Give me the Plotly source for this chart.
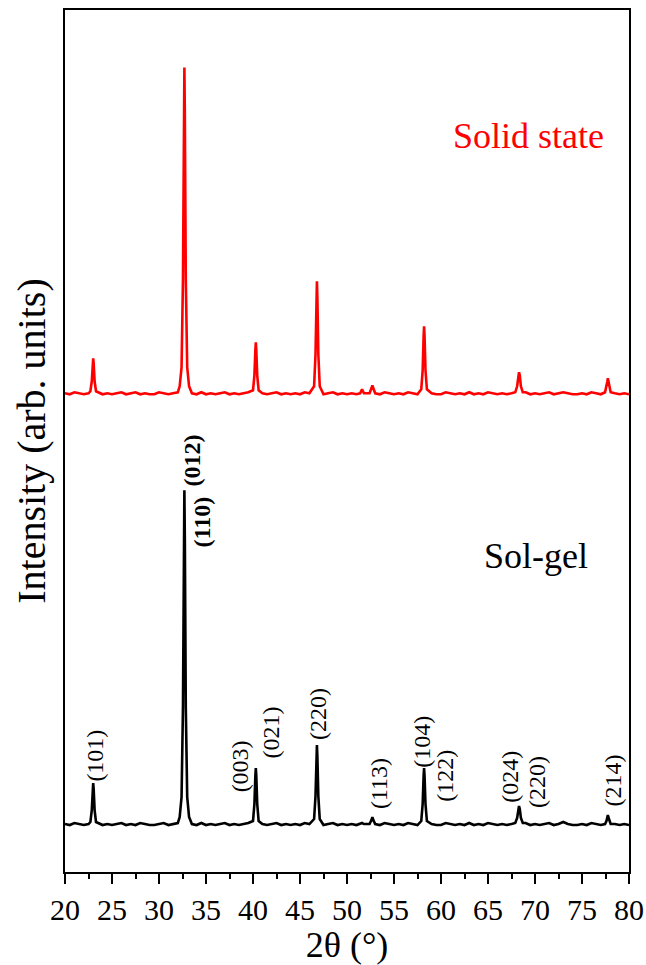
import plotly.graph_objects as go

# ---------------- data ----------------
# baseline sampling (2theta, degrees)
base_tth = [20.0, 20.5, 21.0, 21.5, 22.0, 22.5,
            23.5, 24.0, 24.5, 25.0, 25.5, 26.0, 26.5, 27.0, 27.5, 28.0, 28.5, 29.0, 29.5, 30.0, 30.5, 31.0, 31.5, 32.0,
            33.5, 34.0, 34.5, 35.0, 35.5, 36.0, 36.5, 37.0, 37.5, 38.0, 38.5, 39.0, 39.5,
            41.0, 41.5, 42.0, 42.5, 43.0, 43.5, 44.0, 44.5, 45.0, 45.5, 46.0,
            47.5, 48.0, 48.5, 49.0, 49.5, 50.0, 50.5, 51.0,
            52.0,
            53.5, 54.0, 54.5, 55.0, 55.5, 56.0, 56.5, 57.0, 57.5,
            59.0, 59.5, 60.0, 60.5, 61.0, 61.5, 62.0, 62.5, 63.0, 63.5, 64.0, 64.5, 65.0, 65.5, 66.0, 66.5, 67.0, 67.5,
            69.0, 69.5, 70.0, 70.5, 71.0, 71.5, 72.0, 72.5, 73.0, 73.5, 74.0, 74.5, 75.0, 75.5, 76.0, 76.5, 77.0,
            78.5, 79.0, 79.5, 80.0]
base_solgel = [48, 47, 49, 48, 47, 48,
               49, 47, 48, 47, 48, 49, 47, 48, 47, 49, 48, 47, 47, 48, 49, 47, 48, 49,
               48, 47, 49, 47, 48, 47, 48, 49, 47, 48, 47, 48, 49,
               48, 47, 48, 49, 47, 48, 47, 48, 47, 49, 48,
               47, 48, 49, 47, 48, 47, 48, 47,
               48,
               47, 49, 48, 47, 48, 47, 49, 48, 47,
               48, 47, 47, 49, 48, 47, 48, 47, 49, 47, 48, 47, 49, 48, 47, 48, 47, 48,
               49, 47, 48, 47, 48, 49, 47, 48, 50, 48, 47, 47, 48, 47, 49, 48, 47,
               48, 47, 48, 47]
base_solid = [479, 478, 480, 479, 478, 479,
              480, 478, 479, 478, 479, 480, 478, 479, 480, 478, 479, 478, 478, 480, 479, 478, 479, 480,
              479, 478, 480, 478, 479, 478, 479, 480, 478, 479, 478, 479, 480,
              479, 478, 479, 480, 478, 479, 478, 479, 478, 480, 479,
              478, 479, 480, 478, 479, 478, 479, 478,
              479,
              478, 480, 479, 478, 479, 478, 480, 479, 478,
              479, 478, 478, 480, 479, 478, 479, 478, 480, 478, 479, 478, 480, 479, 478, 479, 478, 479,
              480, 478, 479, 478, 479, 480, 478, 479, 480, 479, 478, 478, 479, 478, 480, 479, 478,
              479, 478, 479, 478]

# diffraction peak regions
peak_tth = [22.7, 22.85, 22.95, 23.0, 23.05, 23.15, 23.3,
            32.2, 32.4, 32.55, 32.65, 32.7, 32.75, 32.85, 33.0, 33.2,
            40.0, 40.15, 40.25, 40.3, 40.35, 40.45, 40.6,
            46.5, 46.65, 46.75, 46.8, 46.85, 46.95, 47.1,
            51.4, 51.6, 51.8,
            52.4, 52.6, 52.7, 52.8, 53.0,
            57.9, 58.05, 58.15, 58.2, 58.25, 58.35, 58.5,
            67.9, 68.1, 68.22, 68.3, 68.38, 68.5, 68.7,
            77.45, 77.6, 77.7, 77.75, 77.8, 77.9, 78.05]
peak_solgel = [50, 62, 83, 89, 83, 62, 50,
               55, 75, 165, 332, 382, 332, 165, 75, 55,
               51, 68, 96, 104, 96, 68, 51,
               53, 76, 115, 127, 115, 76, 53,
               48, 49, 48,
               48, 52, 55, 52, 48,
               51, 68, 96, 104, 96, 68, 51,
               49, 54, 63, 66, 63, 54, 49,
               48, 51, 55, 57, 55, 51, 48]
peak_solid = [481, 491, 509, 514, 509, 491, 481,
              486, 505, 593, 756, 805, 756, 593, 505, 486,
              482, 497, 522, 530, 522, 497, 482,
              486, 518, 574, 591, 574, 518, 486,
              479, 483, 479,
              479, 484, 487, 484, 479,
              483, 502, 536, 546, 536, 502, 483,
              480, 486, 497, 500, 497, 486, 480,
              480, 485, 491, 494, 491, 485, 480]

# Miller index labels
hkl_labels = ["(101)", "(012)", "(110)", "(003)", "(021)", "(220)",
              "(113)", "(104)", "(122)", "(024)", "(220)", "(214)"]
hkl_x = [23.25, 33.55, 34.6, 38.65, 41.95, 46.9, 53.4, 57.95, 60.4, 67.3, 70.2, 78.25]
hkl_y = [116, 412, 350, 106, 140, 158, 89, 130, 96, 95, 90, 91]
hkl_bold = [False, True, True, False, False, False, False, False, False, False, False, False]

x_ticks = [20, 25, 30, 35, 40, 45, 50, 55, 60, 65, 70, 75, 80]

# ---------------- build the traces ----------------
assert len(base_tth) == len(base_solgel) == len(base_solid)
assert len(peak_tth) == len(peak_solgel) == len(peak_solid)

rows = sorted(zip(base_tth + peak_tth, base_solgel + peak_solgel, base_solid + peak_solid))
tth = [r[0] for r in rows]
solgel = [r[1] for r in rows]
solid = [r[2] for r in rows]

FONT = "Liberation Serif"

fig = go.Figure()
fig.add_trace(go.Scatter(x=tth, y=solgel, mode="lines", name="Sol-gel",
                         line=dict(color="black", width=2.6), showlegend=False))
fig.add_trace(go.Scatter(x=tth, y=solid, mode="lines", name="Solid state",
                         line=dict(color="#ff0000", width=2.6), showlegend=False))

annotations = []
for lab, xx, yy, b in zip(hkl_labels, hkl_x, hkl_y, hkl_bold):
    annotations.append(dict(
        x=xx, y=yy, xref="x", yref="y",
        text=f"<b>{lab}</b>" if b else lab,
        textangle=-90, showarrow=False,
        xanchor="center", yanchor="middle",
        font=dict(family=FONT, size=24, color="black")))

L, R = 64.5, 629.5
annotations.append(dict(x=(529 - L) / (R - L), y=872 - 136, xref="paper", yref="y", text="Solid state",
                        showarrow=False, font=dict(family=FONT, size=36, color="#ff0000"),
                        xanchor="center", yanchor="middle"))
annotations.append(dict(x=(536 - L) / (R - L), y=872 - 556, xref="paper", yref="y", text="Sol-gel",
                        showarrow=False, font=dict(family=FONT, size=36, color="black"),
                        xanchor="center", yanchor="middle"))

fig.update_layout(
    width=646, height=965,
    margin=dict(l=64.5, r=646 - 629.5, t=9.5, b=93),
    paper_bgcolor="white", plot_bgcolor="white",
    font=dict(family=FONT, color="black"),
    annotations=annotations,
    xaxis=dict(
        range=[20, 80], tickvals=x_ticks, ticktext=[str(v) for v in x_ticks],
        ticks="outside", ticklen=10, tickwidth=2, tickcolor="black",
        minor=dict(dtick=2.5, tick0=20, ticks="outside", ticklen=5, tickwidth=2, tickcolor="black"),
        showline=True, linewidth=2, linecolor="black", mirror=True,
        showgrid=False, zeroline=False, automargin=False,
        tickfont=dict(family=FONT, size=30, color="black"),
        title=dict(text="2θ (°)", font=dict(family=FONT, size=36, color="black"), standoff=4),
    ),
    yaxis=dict(
        range=[0, 862.5], showticklabels=False, ticks="",
        showline=True, linewidth=2, linecolor="black", mirror=True,
        showgrid=False, zeroline=False, automargin=False,
        title=dict(text="Intensity (arb. units)", font=dict(family=FONT, size=40, color="black"), standoff=5),
    ),
)

fig.write_html("out.html",
               config={"displayModeBar": False},
               post_script="document.body.style.margin='0';document.body.style.padding='0';"
                           "document.body.style.overflow='hidden';")
